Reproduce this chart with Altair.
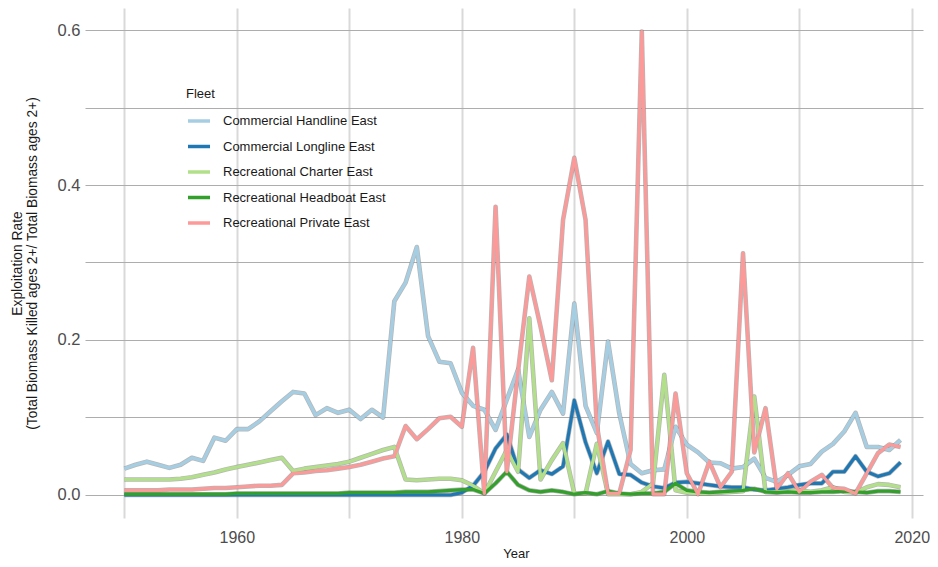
import altair as alt
import pandas as pd

years = list(range(1950, 2020))

fleets = [
    "Commercial Handline East",
    "Commercial Longline East",
    "Recreational Charter East",
    "Recreational Headboat East",
    "Recreational Private East",
]
colors = ["#A6CEE3", "#1F78B4", "#B2DF8A", "#33A02C", "#FB9A99"]

handline = [
    0.034, 0.039, 0.043, 0.039, 0.035, 0.039, 0.048, 0.044, 0.074, 0.070,
    0.085, 0.085, 0.095, 0.108, 0.121, 0.133, 0.131, 0.103, 0.112, 0.106,
    0.110, 0.098, 0.110, 0.100, 0.250, 0.274, 0.320, 0.205, 0.172, 0.170,
    0.132, 0.115, 0.110, 0.084, 0.123, 0.162, 0.075, 0.110, 0.133, 0.105,
    0.247, 0.115, 0.080, 0.198, 0.105, 0.040, 0.028, 0.032, 0.033, 0.088,
    0.065, 0.055, 0.042, 0.041, 0.034, 0.036, 0.047, 0.022, 0.017, 0.026,
    0.037, 0.040, 0.056, 0.066, 0.082, 0.106, 0.062, 0.062, 0.058, 0.071,
]
longline = [
    0.0, 0.0, 0.0, 0.0, 0.0, 0.0, 0.0, 0.0, 0.0, 0.0,
    0.0, 0.0, 0.0, 0.0, 0.0, 0.0, 0.0, 0.0, 0.0, 0.0,
    0.0, 0.0, 0.0, 0.0, 0.0, 0.0, 0.0, 0.0, 0.0, 0.0,
    0.003, 0.012, 0.030, 0.060, 0.078, 0.033, 0.022, 0.032, 0.027, 0.037,
    0.122, 0.068, 0.028, 0.069, 0.027, 0.026, 0.016, 0.011, 0.009, 0.016,
    0.017, 0.015, 0.013, 0.011, 0.010, 0.010, 0.007, 0.006, 0.008, 0.010,
    0.013, 0.015, 0.015, 0.030, 0.030, 0.050, 0.030, 0.024, 0.028, 0.042,
]
charter = [
    0.020, 0.020, 0.020, 0.020, 0.020, 0.021, 0.023, 0.026, 0.029, 0.033,
    0.036, 0.039, 0.042, 0.045, 0.048, 0.031, 0.034, 0.036, 0.038, 0.040,
    0.043, 0.048, 0.053, 0.058, 0.062, 0.020, 0.019, 0.020, 0.021, 0.021,
    0.019, 0.012, 0.002, 0.030, 0.058, 0.030, 0.228, 0.020, 0.045, 0.067,
    0.002, 0.002, 0.066, 0.001, 0.001, 0.001, 0.004, 0.015, 0.155, 0.006,
    0.003, 0.002, 0.002, 0.003, 0.004, 0.005, 0.127, 0.004, 0.004, 0.005,
    0.006, 0.004, 0.006, 0.010, 0.004, 0.003, 0.010, 0.014, 0.013, 0.010,
]
headboat = [
    0.001, 0.001, 0.001, 0.001, 0.001, 0.001, 0.001, 0.001, 0.001, 0.001,
    0.002, 0.002, 0.002, 0.002, 0.002, 0.002, 0.002, 0.002, 0.002, 0.002,
    0.003, 0.003, 0.003, 0.003, 0.003, 0.004, 0.004, 0.004, 0.005, 0.006,
    0.007, 0.007, 0.002, 0.015, 0.030, 0.013, 0.006, 0.004, 0.006, 0.004,
    0.001, 0.003, 0.001, 0.005, 0.002, 0.001, 0.002, 0.002, 0.004, 0.015,
    0.006, 0.004, 0.003, 0.004, 0.005, 0.006, 0.008, 0.004, 0.003, 0.004,
    0.003, 0.003, 0.004, 0.004, 0.005, 0.004, 0.003, 0.005, 0.005, 0.004,
]
private = [
    0.006, 0.006, 0.006, 0.006, 0.007, 0.007, 0.007, 0.008, 0.009, 0.009,
    0.010, 0.011, 0.012, 0.012, 0.013, 0.028, 0.029, 0.031, 0.032, 0.034,
    0.036, 0.039, 0.043, 0.047, 0.050, 0.089, 0.072, 0.085, 0.099, 0.101,
    0.088, 0.190, 0.002, 0.372, 0.030, 0.160, 0.282, 0.217, 0.148, 0.355,
    0.435, 0.355, 0.090, 0.002, 0.002, 0.058, 0.598, 0.001, 0.001, 0.131,
    0.028, 0.001, 0.043, 0.010, 0.030, 0.312, 0.055, 0.112, 0.008, 0.028,
    0.004, 0.017, 0.026, 0.009, 0.008, 0.002, 0.028, 0.054, 0.065, 0.062,
]

series = [handline, longline, charter, headboat, private]
rows = []
for k, (name, vals) in enumerate(zip(fleets, series)):
    for yr, v in zip(years, vals):
        rows.append({"Year": yr, "Rate": v, "Fleet": name, "ord": k})
df = pd.DataFrame(rows)

FONT = "Liberation Sans"

x_enc = alt.X(
    "Year:Q",
    scale=alt.Scale(domain=[1946.5, 2021], nice=False, zero=False),
    axis=alt.Axis(
        values=[1950, 1960, 1970, 1980, 1990, 2000, 2010, 2020],
        labelExpr="datum.value % 20 == 0 ? datum.label : ''",
        format="d",
        ticks=False,
        domain=False,
        labelPadding=11,
        labelFontSize=16,
        labelColor="#4D4D4D",
        labelFont=FONT,
        labelOverlap=False,
        labelBound=False,
        gridColor="#D9D9D9",
        gridWidth=2,
        title="Year",
        titleFont=FONT,
        titleFontSize=13,
        titleFontWeight="normal",
        titleColor="#1a1a1a",
        titleX=431,
        titleY=35,
        titleAlign="center",
        titleBaseline="middle",
    ),
)
y_enc = alt.Y(
    "Rate:Q",
    scale=alt.Scale(domain=[-0.0297, 0.6284], nice=False, zero=False),
    axis=alt.Axis(
        values=[0, 0.1, 0.2, 0.3, 0.4, 0.5, 0.6],
        labelExpr="round(datum.value * 10) % 2 == 0 ? format(datum.value, '.1f') : ''",
        ticks=False,
        domain=False,
        labelPadding=5,
        labelFontSize=16.5,
        labelColor="#4D4D4D",
        labelFont=FONT,
        gridColor="#ADADAD",
        gridWidth=1.2,
        title=["Exploitation Rate", "(Total Biomass Killed ages 2+/ Total Biomass ages 2+)"],
        titleFont=FONT,
        titleFontSize=13.8,
        titleFontWeight="normal",
        titleColor="#1a1a1a",
        titleLineHeight=15,
        titleAngle=270,
        titleX=-75,
        titleY=255,
        titleAlign="center",
        titleBaseline="top",
    ),
)

base = alt.Chart(df).encode(x=x_enc, y=y_enc)

under = base.mark_line(color="#7A7A7A", strokeWidth=4.6, opacity=0.55, strokeJoin="round").encode(
    detail="Fleet:N", order="Year:Q"
)
top = base.mark_line(strokeWidth=3.2, strokeJoin="round").encode(
    color=alt.Color(
        "Fleet:N",
        scale=alt.Scale(domain=fleets, range=colors),
        legend=alt.Legend(
            title="Fleet",
            orient="none",
            legendX=101,
            legendY=80,
            symbolType="stroke",
            symbolSize=484,
            symbolStrokeWidth=3.5,
            labelFontSize=13,
            labelFont=FONT,
            labelColor="#1a1a1a",
            labelLimit=400,
            titleFontSize=13,
            titleFont=FONT,
            titleFontWeight="normal",
            titleColor="#1a1a1a",
            titlePadding=7,
            rowPadding=5.5,
            labelOffset=11,
            padding=0,
        ),
    ),
    order="Year:Q",
)

chart = (
    alt.layer(under, top)
    .properties(
        width=838,
        height=510,
        autosize=alt.AutoSizeParams(type="none"),
        padding={"left": 77, "top": 0, "right": 7, "bottom": 41},
        background="white",
    )
    .configure_view(stroke=None)
)

chart.save("out.html", embed_options={"renderer": "svg", "actions": False})
